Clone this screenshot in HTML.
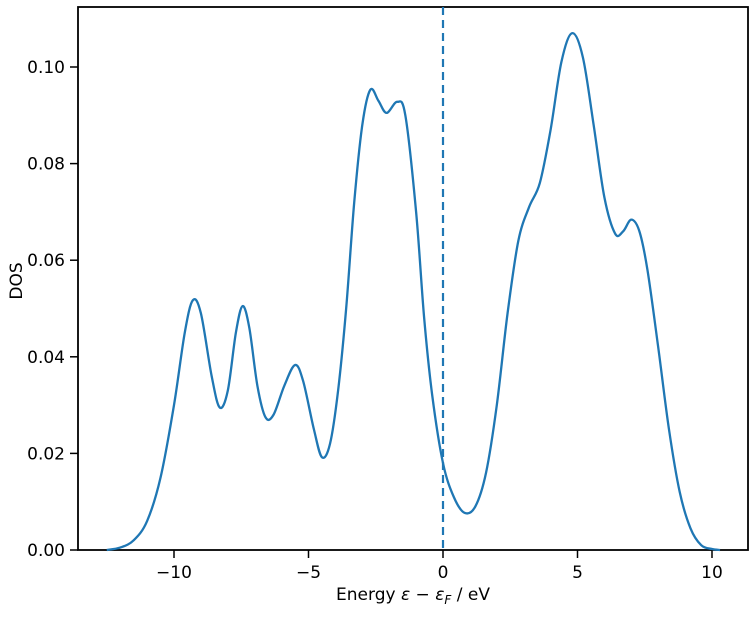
<!DOCTYPE html>
<html><head><meta charset="utf-8"><style>
body{margin:0;background:#fff}
text{font-family:"DejaVu Sans","Liberation Sans",sans-serif;fill:#000}
</style></head><body>
<svg id="chart" width="755" height="613">
<rect x="78" y="7" width="670" height="543" fill="none" stroke="#000" stroke-width="1.8"/>
<g id="ticks"></g>
<line id="fermi" stroke="#1f77b4" stroke-width="2.2" stroke-dasharray="8,5"/>
<path id="curve" fill="none" stroke="#1f77b4" stroke-width="2.3"/>
<text x="413" y="600" text-anchor="middle" font-size="17">Energy <tspan font-style="italic">ε</tspan> − <tspan font-style="italic">ε</tspan><tspan font-size="12" dy="4" font-style="italic">F</tspan><tspan dy="-4"> / eV</tspan></text>
<text transform="translate(22,281) rotate(-90)" text-anchor="middle" font-size="17">DOS</text>
</svg>
<script>
const energy=[-12.5,-12,-11.5,-11,-10.5,-10,-9.6,-9.3,-9.0,-8.6,-8.3,-8.0,-7.7,-7.45,-7.2,-6.9,-6.6,-6.3,-5.9,-5.5,-5.2,-4.8,-4.5,-4.2,-3.9,-3.6,-3.3,-3.0,-2.7,-2.4,-2.1,-1.7,-1.4,-1.0,-0.7,-0.4,0,0.4,0.8,1.2,1.6,2.0,2.4,2.8,3.2,3.6,4.0,4.4,4.8,5.2,5.6,6.0,6.4,6.7,7.0,7.3,7.6,8.0,8.4,8.8,9.2,9.6,10,10.3];
const dos=[0,0.0005,0.002,0.006,0.015,0.03,0.045,0.0517,0.049,0.036,0.0295,0.033,0.045,0.0505,0.046,0.034,0.0275,0.028,0.034,0.0383,0.035,0.025,0.0192,0.022,0.033,0.05,0.072,0.088,0.0953,0.093,0.0905,0.0928,0.09,0.07,0.048,0.032,0.018,0.011,0.0077,0.009,0.016,0.030,0.049,0.064,0.071,0.076,0.087,0.101,0.107,0.102,0.088,0.073,0.0655,0.066,0.0684,0.066,0.058,0.042,0.025,0.012,0.0045,0.001,0.0002,0];
const xTicks=[-10,-5,0,5,10];
const xTickLabels=["−10","−5","0","5","10"];
const yTicks=[0,0.02,0.04,0.06,0.08,0.10];
const yTickLabels=["0.00","0.02","0.04","0.06","0.08","0.10"];
const fermiEnergy=[0];
const X=e=>443+e*26.9, Y=v=>550-v*4830;
const NS='http://www.w3.org/2000/svg';
const g=document.getElementById('ticks');
function mk(t,a){const el=document.createElementNS(NS,t);for(const k in a)el.setAttribute(k,a[k]);return el;}
xTicks.forEach((t,i)=>{
 const l=mk('line',{x1:X(t),x2:X(t),y1:550,y2:558,stroke:'#000','stroke-width':1.5});
 
 
 g.appendChild(l);
 const tx=mk('text',{x:X(t),y:578,'text-anchor':'middle','font-size':17});
 
 
 tx.textContent=xTickLabels[i];g.appendChild(tx);
});
yTicks.forEach((t,i)=>{
 const l=mk('line',{x1:70,x2:78,y1:Y(t),y2:Y(t),stroke:'#000','stroke-width':1.5});
 
 
 g.appendChild(l);
 const tx=mk('text',{x:65,y:Y(t)+6,'text-anchor':'end','font-size':17});
 
 
 tx.textContent=yTickLabels[i];g.appendChild(tx);
});
const f=document.getElementById('fermi');
f.setAttribute('x1',X(fermiEnergy[0]));f.setAttribute('x2',X(fermiEnergy[0]));
f.setAttribute('y1',7);f.setAttribute('y2',550);
const P=energy.map((e,i)=>[X(e),Y(dos[i])]);
let d='M'+P[0][0]+','+P[0][1];
for(let i=0;i<P.length-1;i++){
 const p0=P[Math.max(i-1,0)],p1=P[i],p2=P[i+1],p3=P[Math.min(i+2,P.length-1)];
 const c1=[p1[0]+(p2[0]-p0[0])/6,p1[1]+(p2[1]-p0[1])/6];
 const c2=[p2[0]-(p3[0]-p1[0])/6,p2[1]-(p3[1]-p1[1])/6];
 d+=` C${c1[0]},${c1[1]} ${c2[0]},${c2[1]} ${p2[0]},${p2[1]}`;
}
document.getElementById('curve').setAttribute('d',d);
</script>
</body></html>
